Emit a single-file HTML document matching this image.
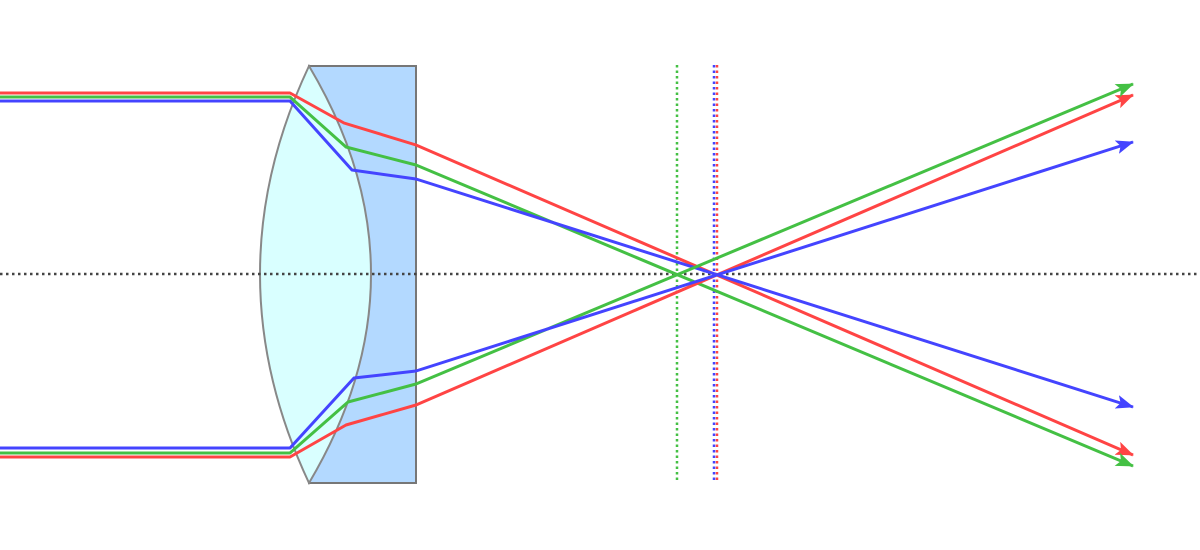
<!DOCTYPE html>
<html><head><meta charset="utf-8"><style>html,body{margin:0;padding:0;background:#fff}svg{display:block}</style></head>
<body>
<svg width="1200" height="550" viewBox="0 0 1200 550" xmlns="http://www.w3.org/2000/svg">
<defs>
<marker id="ar" viewBox="0 0 18 14" refX="17" refY="7" markerWidth="18" markerHeight="14" markerUnits="userSpaceOnUse" orient="auto"><path d="M0,0L18,7L0,14L4,7z" fill="#f44"/></marker>
<marker id="ag" viewBox="0 0 18 14" refX="17" refY="7" markerWidth="18" markerHeight="14" markerUnits="userSpaceOnUse" orient="auto"><path d="M0,0L18,7L0,14L4,7z" fill="#44c044"/></marker>
<marker id="ab" viewBox="0 0 18 14" refX="17" refY="7" markerWidth="18" markerHeight="14" markerUnits="userSpaceOnUse" orient="auto"><path d="M0,0L18,7L0,14L4,7z" fill="#44f"/></marker>
</defs>
<rect x="309" y="66" width="107" height="417" fill="#b3d9ff" stroke="#777" stroke-width="2"/>
<path d="M309,66 Q211,274 309,483 Q433,274 309,66Z" fill="#d9ffff" stroke="#888" stroke-width="2"/>
<line x1="0" y1="274" x2="1200" y2="274" stroke="#444" stroke-width="2.5" stroke-dasharray="2.5,3.5"/>
<line x1="677" y1="65" x2="677" y2="481" stroke="#44c044" stroke-width="2.5" stroke-dasharray="2.5,3"/>
<line x1="714" y1="65" x2="714" y2="481" stroke="#44f" stroke-width="2.5" stroke-dasharray="2.5,3"/>
<line x1="717" y1="65" x2="717" y2="481" stroke="#f44" stroke-width="2.5" stroke-dasharray="2.5,3"/>
<g fill="none" stroke-width="3" stroke-linejoin="round">
<polyline points="0,93 290,93 344,123 416,145 1133,455" stroke="#f44" marker-end="url(#ar)"/>
<polyline points="0,97 290,97 346,147 416,165 1133,466" stroke="#44c044" marker-end="url(#ag)"/>
<polyline points="0,101 290,101 352,170 416,179 1133,407" stroke="#44f" marker-end="url(#ab)"/>
<polyline points="0,457 290,457 346,425 416,405 1133,95" stroke="#f44" marker-end="url(#ar)"/>
<polyline points="0,453 290,453 348,402 416,384 1133,84" stroke="#44c044" marker-end="url(#ag)"/>
<polyline points="0,448 290,448 354,378 416,371 1133,142" stroke="#44f" marker-end="url(#ab)"/>
</g>
</svg>
</body></html>
